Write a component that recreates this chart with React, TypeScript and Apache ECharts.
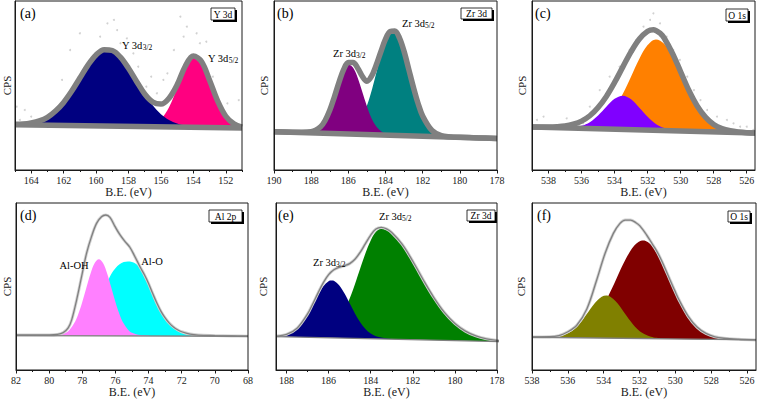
import React, { useEffect, useRef } from "react";
import * as echarts from "echarts";

const FONT = "Liberation Serif, Times New Roman, serif";

// ---------------- (a) Y 3d ----------------
const aRange = [151, 165];
const aTicks = [152, 154, 156, 158, 160, 162, 164];
const aMinorTicks = [151, 153, 155, 157, 159, 161, 163, 165];
const aBackground = [[165, 26.8], [151, 24.8]];
const aNavy = [[165, 27.0], [164.5, 27.2], [164, 27.9], [163.5, 29.1], [163, 31.2], [162.5, 34.85], [162, 40.0], [161.5, 46.7], [161, 54.4], [160.5, 62.05], [160, 68.1], [159.5, 71.2], [159, 70.7], [158.5, 66.75], [158, 60.2], [157.5, 52.35], [157, 44.7], [156.5, 38.1], [156, 33.0], [155.5, 29.65], [155, 27.5], [154.5, 26.3], [154, 25.6], [153.5, 25.35]];
const aPink = [[157.5, 25.8], [157, 26.0], [156.5, 27.0], [156, 30.1], [155.5, 37.15], [155, 48.3], [154.5, 60.4], [154, 67.0], [153.5, 63.95], [153, 53.1], [152.5, 40.8], [152, 31.8], [151.5, 27.25], [151, 25.4]];
const aEnvelope = [[165, 27.0], [164.5, 27.2], [164, 27.9], [163.5, 29.1], [163, 31.2], [162.5, 34.9], [162, 40.0], [161.5, 46.7], [161, 54.4], [160.5, 62.1], [160, 68.1], [159.5, 71.2], [159, 70.7], [158.5, 66.8], [158, 60.2], [157.5, 52.4], [157, 45.0], [156.5, 40.2], [156, 39.0], [155.5, 42.5], [155, 50.4], [154.5, 61.4], [154, 67.4], [153.5, 64.2], [153, 53.1], [152.5, 40.8], [152, 31.8], [151.5, 27.3], [151, 25.4]];
const aNoise = [[164.9, 37.5], [164.7, 13.8], [164.7, 29.6], [164.4, 35.5], [164.0, 31.6], [163.9, 22.7], [163.7, 25.6], [163.25, 8.9], [162.8, 19.7], [162.4, 17.8], [162.1, 53.3], [161.6, 71.0], [161.0, 80.9], [159.75, 78.9], [159.3, 86.8], [158.9, 88.8], [158.7, 82.8], [158.5, 75.0], [158.1, 77.9], [157.7, 69.0], [157.4, 61.1], [157.1, 20.7], [156.9, 49.3], [156.6, 55.2], [156.25, 45.4], [155.85, 53.3], [155.6, 57.2], [155.2, 71.0], [154.8, 90.7], [154.6, 78.9], [154.4, 84.8], [153.8, 80.9], [153.6, 75.0], [153.2, 75.9], [152.8, 55.2], [152.35, 67.1], [151.9, 39.4], [151.7, 13.8], [151.5, 8.9], [151.2, 41.4]];

// ---------------- (b) Zr 3d ----------------
const bRange = [178, 190];
const bTicks = [178, 180, 182, 184, 186, 188, 190];
const bMinorTicks = [179, 181, 183, 185, 187, 189];
const bBackground = [[190, 22.7], [178, 18.7]];
const bPurple = [[188.45, 22.3], [187.95, 22.8], [187.7, 23.8], [187.45, 26.15], [187.2, 30.4], [186.95, 36.8], [186.7, 45.0], [186.45, 53.4], [186.2, 59.9], [185.95, 62.35], [185.7, 59.8], [185.45, 53.1], [185.2, 44.5], [184.95, 36.1], [184.7, 29.5], [184.45, 25.15], [184.2, 22.7], [183.95, 21.4], [183.45, 20.6]];
const bTeal = [[186.6, 21.7], [186.1, 22.4], [185.6, 25.6], [185.35, 29.35], [185.1, 35.1], [184.85, 43.1], [184.6, 53.0], [184.35, 63.6], [184.1, 73.3], [183.85, 80.15], [183.6, 82.6], [183.35, 80.0], [183.1, 73.0], [182.85, 63.1], [182.6, 52.3], [182.35, 42.25], [182.1, 34.1], [181.85, 28.2], [181.6, 24.3], [181.1, 20.7], [180.6, 19.7]];
const bEnvelope = [[190, 22.7], [189, 22.4], [188.5, 22.3], [188, 22.6], [187.5, 25.5], [187.25, 29.3], [187, 35.3], [186.75, 43.3], [186.5, 52.0], [186.25, 59.5], [186, 63.6], [185.75, 63.6], [185.5, 60.4], [185.25, 55.5], [185, 52.5], [184.75, 55.5], [184.5, 62.1], [184.25, 70.0], [184, 77.4], [183.75, 82.0], [183.5, 82.3], [183.25, 78.2], [183, 70.2], [182.75, 59.7], [182.5, 49.1], [182.25, 39.5], [182, 32.0], [181.5, 23.4], [181, 20.3], [180.5, 19.6], [180, 19.4], [179, 19.0], [178, 18.7]];

// ---------------- (c) O 1s ----------------
const cRange = [525.5, 539];
const cTicks = [526, 528, 530, 532, 534, 536, 538];
const cMinorTicks = [527, 529, 531, 533, 535, 537, 539];
const cBackground = [[539, 25.4], [525.5, 21.9]];
const cOrange = [[536.5, 24.8], [536, 25.15], [535.5, 25.9], [535, 27.7], [534.5, 31.05], [534, 36.8], [533.5, 45.1], [533, 55.35], [532.5, 65.8], [532, 73.9], [531.5, 77.25], [531, 74.7], [530.5, 67.2], [530, 56.8], [529.5, 46.0], [529, 37.0], [528.5, 30.5], [528, 26.35], [527.5, 24.1], [527, 23.0], [526.5, 22.4]];
const cViolet = [[537, 25.0], [536.5, 25.3], [536, 26.15], [535.5, 28.3], [535, 32.3], [534.5, 37.45], [534, 42.1], [533.5, 44.0], [533, 41.85], [532.5, 36.9], [532, 31.5], [531.5, 27.25], [531, 24.8], [530.5, 23.7], [530, 23.2]];
const cEnvelope = [[539, 25.4], [538.5, 25.4], [538, 25.4], [537.5, 25.55], [537, 26.0], [536.5, 27.1], [536, 28.95], [535.5, 32.1], [535, 37.0], [534.5, 43.55], [534, 51.8], [533.5, 61.0], [533, 70.05], [532.5, 77.5], [532, 82.1], [531.65, 83.0], [531.2, 80.5], [531, 78.1], [530.5, 69.1], [530, 58.1], [529.5, 47.0], [529, 37.9], [528.5, 31.3], [528, 26.95], [527.5, 24.5], [527, 23.2], [526.5, 22.5], [526, 22.1], [525.5, 21.9]];
const cNoise = [[538.7, 29.6], [538.3, 31.6], [537.9, 25.6], [537.3, 24.7], [536.9, 30.6], [536.7, 22.7], [536.3, 21.7], [536.1, 18.7], [535.9, 27.6], [535.5, 37.5], [534.9, 47.3], [534.3, 55.2], [533.7, 61.1], [533.1, 71.0], [532.7, 76.9], [532.25, 84.8], [531.85, 88.8], [531.65, 92.7], [531.25, 86.8], [530.85, 78.9], [530.45, 71.0], [530.05, 65.1], [529.6, 55.2], [529.2, 47.3], [528.8, 41.4], [528.4, 35.5], [527.8, 31.6], [527.2, 29.6], [526.8, 27.6], [526.4, 25.6], [526.0, 25.6], [525.6, 23.7]];

// ---------------- (d) Al 2p ----------------
const dRange = [68, 82];
const dTicks = [68, 70, 72, 74, 76, 78, 80, 82];
const dMinorTicks = [69, 71, 73, 75, 77, 79, 81];
const dBackground = [[82, 20.6], [68, 20.2]];
const dMagenta = [[80, 20.6], [79.5, 20.9], [79, 22.3], [78.75, 24.3], [78.5, 27.8], [78.25, 33.3], [78, 40.7], [77.75, 49.4], [77.5, 57.8], [77.25, 64.0], [77, 66.3], [76.75, 64.0], [76.5, 57.8], [76.25, 49.4], [76, 40.7], [75.75, 33.3], [75.5, 27.8], [75.25, 24.3], [75, 22.3], [74.5, 20.9], [74, 20.6]];
const dCyan = [[78.5, 20.7], [78, 21.5], [77.5, 25], [77, 34], [76.75, 42], [76.5, 52], [76.25, 57.5], [76, 61], [75.75, 63.3], [75.5, 64.6], [75.25, 65], [75, 64.7], [74.75, 63.5], [74.5, 60.8], [74.25, 56.5], [74, 51.3], [73.75, 45.3], [73.5, 39.6], [73.25, 34.6], [73, 30.7], [72.75, 27.6], [72.5, 25.3], [72.25, 23.6], [72, 22.4], [71.5, 21.0], [71, 20.6]];
const dEnvelope = [[82, 21.0], [81, 21.0], [80, 21.0], [79.5, 21.3], [79.15, 22.4], [78.85, 25.2], [78.64, 30], [78.34, 42], [78.04, 56], [77.74, 70], [77.44, 80], [77.14, 87.8], [76.84, 91.8], [76.58, 92.8], [76.33, 91.4], [76.03, 86], [75.73, 81], [75.43, 77], [75.13, 73.5], [74.83, 68], [74.5, 61.5], [74.25, 57], [74, 51.8], [73.75, 45.8], [73.5, 40.1], [73.25, 35.1], [73, 31.2], [72.75, 28.1], [72.5, 25.8], [72.25, 24.1], [72, 22.9], [71.5, 21.5], [71, 20.9], [70, 20.6], [69, 20.4], [68, 20.2]];

// ---------------- (e) Zr 3d ----------------
const eRange = [178, 188.5];
const eTicks = [178, 180, 182, 184, 186, 188];
const eMinorTicks = [179, 181, 183, 185, 187];
const eBackground = [[188.5, 20.0], [177.5, 16.86]];
const eNavy = [[188.5, 20.3], [188, 21.3], [187.5, 24.9], [187, 33.4], [186.75, 39.1], [186.5, 45.1], [186.25, 50.2], [186, 53.2], [185.85, 53.6], [185.75, 53.4], [185.5, 50.7], [185.25, 45.9], [185, 39.9], [184.75, 33.8], [184.5, 28.6], [184.25, 24.6], [184, 21.9], [183.75, 20.2], [183.5, 19.4], [183, 18.5], [182.5, 18.3]];
const eGreen = [[188, 19.86], [187.5, 19.75], [187, 19.8], [186.5, 20.5], [186.25, 21.5], [186, 23.2], [185.75, 25.8], [185.5, 29.9], [185.25, 35.6], [185, 42.8], [184.75, 51.4], [184.5, 60.8], [184.25, 69.9], [184, 77.6], [183.75, 82.8], [183.5, 84.6], [183.25, 83.9], [183, 81.9], [182.5, 74.9], [182, 64.8], [181.5, 53.6], [181, 43.1], [180.5, 34.2], [180, 27.6], [179.5, 23.0], [179, 20.2], [178.5, 18.5], [178, 17.6]];
const eEnvelope = [[188.5, 20.3], [188, 21.3], [187.5, 25.0], [187, 33.6], [186.75, 39.7], [186.5, 46.2], [186.25, 52.3], [186, 57.1], [185.75, 60.0], [185.5, 61.5], [185.25, 62.4], [185, 63.7], [184.75, 66.3], [184.5, 70.5], [184.25, 75.7], [184, 80.8], [183.75, 84.4], [183.5, 85.4], [183.25, 84.5], [183, 82.3], [182.5, 75.2], [182, 65.1], [181.5, 53.9], [181, 43.4], [180.5, 34.5], [180, 27.9], [179.5, 23.3], [179, 20.4], [178.5, 18.7], [178, 17.7], [177.5, 17.1]];

// ---------------- (f) O 1s ----------------
const fRange = [525.5, 538];
const fTicks = [526, 528, 530, 532, 534, 536, 538];
const fMinorTicks = [527, 529, 531, 533, 535, 537];
const fBackground = [[538, 19.6], [525.5, 18.0]];
const fOlive = [[536.86, 19.8], [536.36, 20.6], [535.86, 22.8], [535.61, 24.9], [535.36, 27.6], [535.11, 31.0], [534.86, 34.7], [534.61, 38.4], [534.36, 41.6], [534.11, 43.8], [533.86, 44.55], [533.61, 43.7], [533.36, 41.5], [533.11, 38.3], [532.86, 34.4], [532.61, 30.7], [532.36, 27.3], [532.11, 24.4], [531.86, 22.3], [531.36, 19.9], [530.86, 19.0]];
const fMaroon = [[536.29, 20.0], [535.79, 21.0], [535.29, 23.2], [534.79, 27.1], [534.29, 33.8], [534.04, 38.2], [533.79, 43.3], [533.54, 48.8], [533.29, 54.7], [533.04, 60.6], [532.79, 66.0], [532.54, 70.8], [532.29, 74.5], [532.04, 76.8], [531.79, 77.6], [531.54, 76.7], [531.29, 74.1], [531.04, 70.1], [530.79, 65.0], [530.54, 59.1], [530.29, 53.0], [530.04, 47.0], [529.79, 41.3], [529.54, 36.1], [529.29, 31.8], [529.04, 28.1], [528.79, 25.3], [528.29, 21.6], [527.79, 19.6], [527.29, 18.7]];
const fEnvelope = [[538, 19.8], [537, 19.9], [536.5, 20.6], [536.05, 22.6], [535.5, 26.8], [534.94, 36.5], [534.39, 53.9], [533.92, 69.9], [533.46, 81.8], [533.09, 87.8], [532.8, 89.8], [532.5, 89.8], [532.2, 88.2], [531.98, 86.3], [531.6, 80.8], [531.23, 74.5], [531.04, 71.2], [530.79, 66.0], [530.54, 60.0], [530.29, 53.8], [530.04, 47.7], [529.79, 41.9], [529.29, 32.3], [528.79, 25.7], [528.29, 21.9], [527.79, 19.9], [527.29, 19.0], [526.5, 18.4], [525.5, 18.0]];

// ------------------------------------------------
type Comp = { data: number[][]; color: string };
type Panel = {
  range: number[];
  ticks: number[];
  minor: number[];
  grid: { left: number; top: number; width: number; height: number };
  comps: Comp[];
  bg: number[][];
  env: number[][];
  thick: boolean;
  noise?: number[][];
  cpsGap: number;
  clipEnv?: boolean;
};

const panels: Panel[] = [
  { range: aRange, ticks: aTicks, minor: aMinorTicks, grid: { left: 15, top: 1, width: 227, height: 169 }, comps: [{ data: aPink, color: "#ff0080" }, { data: aNavy, color: "#000080" }], bg: aBackground, env: aEnvelope, thick: true, noise: aNoise, cpsGap: 3 },
  { range: bRange, ticks: bTicks, minor: bMinorTicks, grid: { left: 274, top: 1, width: 223, height: 169 }, comps: [{ data: bTeal, color: "#008080" }, { data: bPurple, color: "#800080" }], bg: bBackground, env: bEnvelope, thick: true, cpsGap: 4.5 },
  { range: cRange, ticks: cTicks, minor: cMinorTicks, grid: { left: 532, top: 1, width: 223, height: 169 }, comps: [{ data: cOrange, color: "#ff8000" }, { data: cViolet, color: "#8000ff" }], bg: cBackground, env: cEnvelope, thick: true, noise: cNoise, cpsGap: 4.5 },
  { range: dRange, ticks: dTicks, minor: dMinorTicks, grid: { left: 16, top: 203, width: 232, height: 167 }, comps: [{ data: dCyan, color: "#00ffff" }, { data: dMagenta, color: "#ff80ff" }], bg: dBackground, env: dEnvelope, thick: false, cpsGap: 3.5 },
  { range: eRange, ticks: eTicks, minor: eMinorTicks, grid: { left: 276, top: 203, width: 221, height: 167 }, comps: [{ data: eGreen, color: "#008000" }, { data: eNavy, color: "#000080" }], bg: eBackground, env: eEnvelope, thick: false, cpsGap: 7.5, clipEnv: false },
  { range: fRange, ticks: fTicks, minor: fMinorTicks, grid: { left: 532, top: 203, width: 224, height: 167 }, comps: [{ data: fMaroon, color: "#800000" }, { data: fOlive, color: "#808000" }], bg: fBackground, env: fEnvelope, thick: false, cpsGap: 6 },
];

const AX = "#1a1a1a";

function buildOption() {
  const grid: any[] = [];
  const xAxis: any[] = [];
  const yAxis: any[] = [];
  const series: any[] = [];
  panels.forEach((p, i) => {
    grid.push({ ...p.grid, show: true, borderColor: AX, borderWidth: 1, z: 10 });
    xAxis.push({
      type: "value", gridIndex: i, min: p.range[0], max: p.range[1], inverse: true, z: 10,
      axisLine: { show: true, lineStyle: { color: AX, width: 1 } },
      axisTick: { show: true, length: 3.5, inside: false, customValues: p.ticks, lineStyle: { color: AX } },
      axisLabel: { show: true, customValues: p.ticks, fontSize: 10, color: AX, margin: 5, fontFamily: FONT },
      splitLine: { show: false },
      name: "B.E. (eV)", nameLocation: "middle", nameGap: 16,
      nameTextStyle: { fontSize: 12, color: AX, fontFamily: FONT },
    });
    xAxis.push({
      type: "value", gridIndex: i, min: p.range[0], max: p.range[1], inverse: true, position: "bottom", z: 10,
      axisLine: { show: false },
      axisTick: { show: true, length: 2, customValues: p.minor, lineStyle: { color: AX } },
      axisLabel: { show: false },
      splitLine: { show: false },
    });
    yAxis.push({
      type: "value", gridIndex: i, min: 0, max: 100, z: 10,
      axisLine: { show: true, lineStyle: { color: AX, width: 1 } },
      axisTick: { show: false }, axisLabel: { show: false }, splitLine: { show: false },
      name: "CPS", nameLocation: "middle", nameGap: p.cpsGap,
      nameTextStyle: { fontSize: 11, color: AX, fontFamily: FONT },
    });
    const xi = 2 * i;
    p.comps.forEach((c) => {
      series.push({
        type: "line", xAxisIndex: xi, yAxisIndex: i, data: c.data, smooth: 0.35, symbol: "none",
        lineStyle: { width: 0, color: c.color }, areaStyle: { color: c.color, opacity: 1, origin: 3 }, silent: true,
      });
    });
    series.push({
      type: "line", xAxisIndex: xi, yAxisIndex: i, data: p.bg, symbol: "none",
      lineStyle: { width: 0 }, areaStyle: { color: "#ffffff", opacity: 1, origin: 1 }, silent: true,
    });
    if (p.noise) {
      series.push({ type: "scatter", xAxisIndex: xi, yAxisIndex: i, data: p.noise, symbolSize: 2, itemStyle: { color: "#c6c6c6" }, silent: true });
    }
    const w = p.thick ? 5.5 : 1.3;
    if (!p.thick) {
      series.push({
        type: "line", xAxisIndex: xi, yAxisIndex: i, data: p.env, smooth: 0.35, symbol: "none", clip: p.clipEnv !== false,
        lineStyle: { color: "#d2d2d2", width: 3 }, silent: true,
      });
    }
    series.push({
      type: "line", xAxisIndex: xi, yAxisIndex: i, data: p.bg, symbol: "none", clip: p.clipEnv !== false,
      lineStyle: { color: "#808080", width: w }, silent: true,
    });
    series.push({
      type: "line", xAxisIndex: xi, yAxisIndex: i, data: p.env, smooth: 0.35, symbol: "none", clip: p.clipEnv !== false,
      lineStyle: { color: "#808080", width: w }, silent: true,
    });
  });

  const graphic: any[] = [];
  const letters: [string, number, number][] = [["(a)", 20, 13], ["(b)", 277, 13], ["(c)", 535, 13], ["(d)", 20, 215], ["(e)", 278, 215], ["(f)", 537, 215]];
  letters.forEach(([t, x, y]) => {
    graphic.push({ type: "text", x, y, z: 100, style: { text: t, fontSize: 14, fontFamily: FONT, fill: "#000", align: "left", verticalAlign: "middle", textAlign: "left", textVerticalAlign: "middle" } });
  });
  const boxes: [string, number, number, number, number][] = [
    ["Y 3d", 211, 8, 24, 12], ["Zr 3d", 461, 8, 31, 11], ["O 1s", 726, 9, 22, 12],
    ["Al 2p", 209, 210, 33, 12], ["Zr 3d", 467, 210, 28, 11], ["O 1s", 728, 211, 22, 11],
  ];
  boxes.forEach(([t, x, y, w, h]) => {
    graphic.push({
      type: "group", z: 100, children: [
        { type: "rect", shape: { x: x + 2, y: y + 2, width: w, height: h }, style: { fill: "#000" } },
        { type: "rect", shape: { x, y, width: w, height: h }, style: { fill: "#fff", stroke: "#000", lineWidth: 0.8 } },
        { type: "text", x: x + w / 2, y: y + h / 2 + 0.5, style: { text: t, fontSize: 9.5, fontFamily: FONT, fill: "#000", align: "center", verticalAlign: "middle", textAlign: "center", textVerticalAlign: "middle" } },
      ],
    });
  });
  const peakLabels: [string, string, number, number][] = [
    ["Y 3d", "3/2", 122, 44], ["Y 3d", "5/2", 208, 57],
    ["Zr 3d", "3/2", 333, 52], ["Zr 3d", "5/2", 402, 22],
    ["Zr 3d", "3/2", 313, 261], ["Zr 3d", "5/2", 379, 215],
  ];
  peakLabels.forEach(([m, s, x, y]) => {
    graphic.push({
      type: "text", x, y: y + 1.5, z: 100,
      style: {
        text: `{m|${m}}{s|${s}}`, align: "left", verticalAlign: "middle", textAlign: "left", textVerticalAlign: "middle",
        rich: {
          m: { fontSize: 10.5, fontFamily: FONT, fill: "#000", lineHeight: 12, padding: [0, 0, 3, 0], verticalAlign: "top" },
          s: { fontSize: 7.5, fontFamily: FONT, fill: "#000", lineHeight: 8, verticalAlign: "bottom" },
        },
      },
    });
  });
  const plain: [string, number, number][] = [["Al-OH", 74, 265], ["Al-O", 152, 261]];
  plain.forEach(([t, x, y]) => {
    graphic.push({ type: "text", x, y, z: 100, style: { text: t, fontSize: 10.5, fontFamily: FONT, fill: "#000", align: "center", verticalAlign: "middle", textAlign: "center", textVerticalAlign: "middle" } });
  });

  return {
    animation: false,
    backgroundColor: "#ffffff",
    textStyle: { fontFamily: FONT },
    grid, xAxis, yAxis, series, graphic,
  };
}

export default function App() {
  const ref = useRef<HTMLDivElement>(null);
  useEffect(() => {
    document.body.style.margin = "0";
    if (!ref.current) return;
    const chart = echarts.init(ref.current, null, { renderer: "svg" });
    chart.setOption(buildOption() as any);
    return () => chart.dispose();
  }, []);
  return <div ref={ref} style={{ width: 758, height: 400 }} />;
}
